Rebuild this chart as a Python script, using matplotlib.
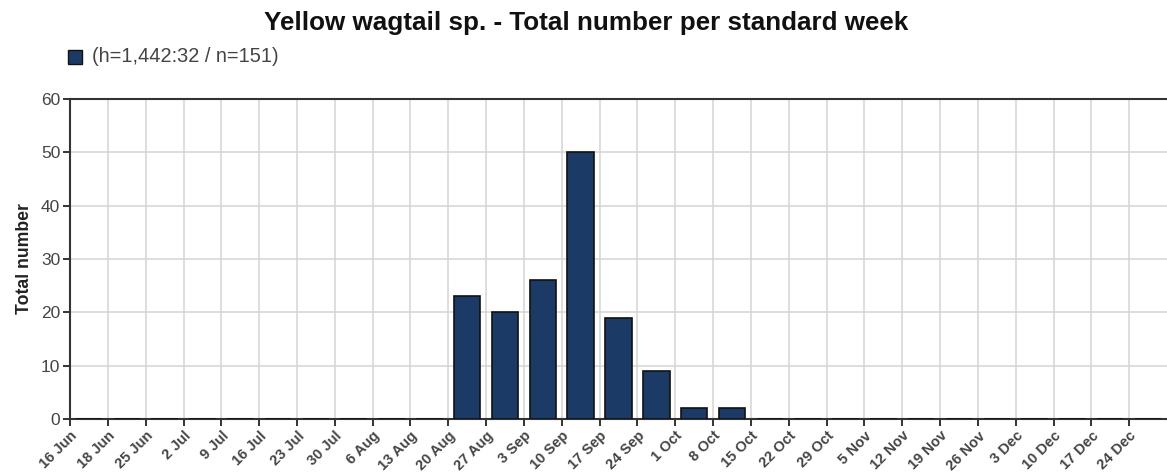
import matplotlib
matplotlib.use("Agg")
import matplotlib.pyplot as plt
from matplotlib.patches import Rectangle
import numpy as np

plt.rcParams['font.family'] = ['Liberation Sans', 'DejaVu Sans']

weeks = ["16 Jun", "18 Jun", "25 Jun", "2 Jul", "9 Jul", "16 Jul", "23 Jul", "30 Jul",
         "6 Aug", "13 Aug", "20 Aug", "27 Aug", "3 Sep", "10 Sep", "17 Sep", "24 Sep",
         "1 Oct", "8 Oct", "15 Oct", "22 Oct", "29 Oct", "5 Nov", "12 Nov", "19 Nov",
         "26 Nov", "3 Dec", "10 Dec", "17 Dec", "24 Dec"]
totals = [0, 0, 0, 0, 0, 0, 0, 0,
          0, 0, 23, 20, 26, 50, 19, 9,
          2, 2, 0, 0, 0, 0, 0, 0,
          0, 0, 0, 0, 0]
y_ticks = [0, 10, 20, 30, 40, 50, 60]

title = "Yellow wagtail sp. - Total number per standard week"
legend_label = "(h=1,442:32 / n=151)"
y_label = "Total number"

bar_color = "#1b3b66"
edge_color = "#111111"
grid_color = "#d4d4d4"
axis_color = "#333333"
text_color = "#444444"

fig = plt.figure(figsize=(11.67, 4.74), dpi=100)
ax = fig.add_axes([0.06, 0.116, 0.94, 0.675])

x = np.arange(len(weeks))
ax.bar(x + 0.5, totals, width=0.7, color=bar_color, edgecolor=edge_color,
       linewidth=1.2, zorder=3)

ax.set_xlim(0, len(weeks))
ax.set_ylim(0, 60)
ax.set_xticks(x)
ax.set_xticklabels(weeks, rotation=45, ha="right", rotation_mode="anchor",
                   fontsize=10.5, color=text_color, fontweight="bold")
ax.set_yticks(y_ticks)
ax.set_yticklabels([str(v) for v in y_ticks], fontsize=12.5, color=text_color)

ax.grid(True, color=grid_color, linewidth=1.1, zorder=0)
ax.set_axisbelow(True)

ax.spines["right"].set_visible(False)
for side in ("left", "bottom", "top"):
    ax.spines[side].set_color(axis_color)
    ax.spines[side].set_linewidth(1.5)

ax.tick_params(axis="both", direction="out", length=5, width=1.4, color=axis_color, pad=2)
ax.tick_params(axis="x", pad=2)

ax.set_ylabel(y_label, fontsize=12.7, fontweight="bold", color="#222222", labelpad=6)

fig.text(0.502, 0.951, title, ha="center", va="center", fontsize=18.7,
         fontweight="bold", color="#111111")

fig.patches.append(Rectangle((68 / 1167, 1 - 64 / 474), 14 / 1167, 14 / 474,
                             transform=fig.transFigure, facecolor=bar_color,
                             edgecolor=edge_color, linewidth=1.0))
fig.text(92 / 1167, 1 - 57 / 474, legend_label, ha="left", va="center",
         fontsize=14.4, color=text_color)

fig.savefig("out.png", dpi=100)
